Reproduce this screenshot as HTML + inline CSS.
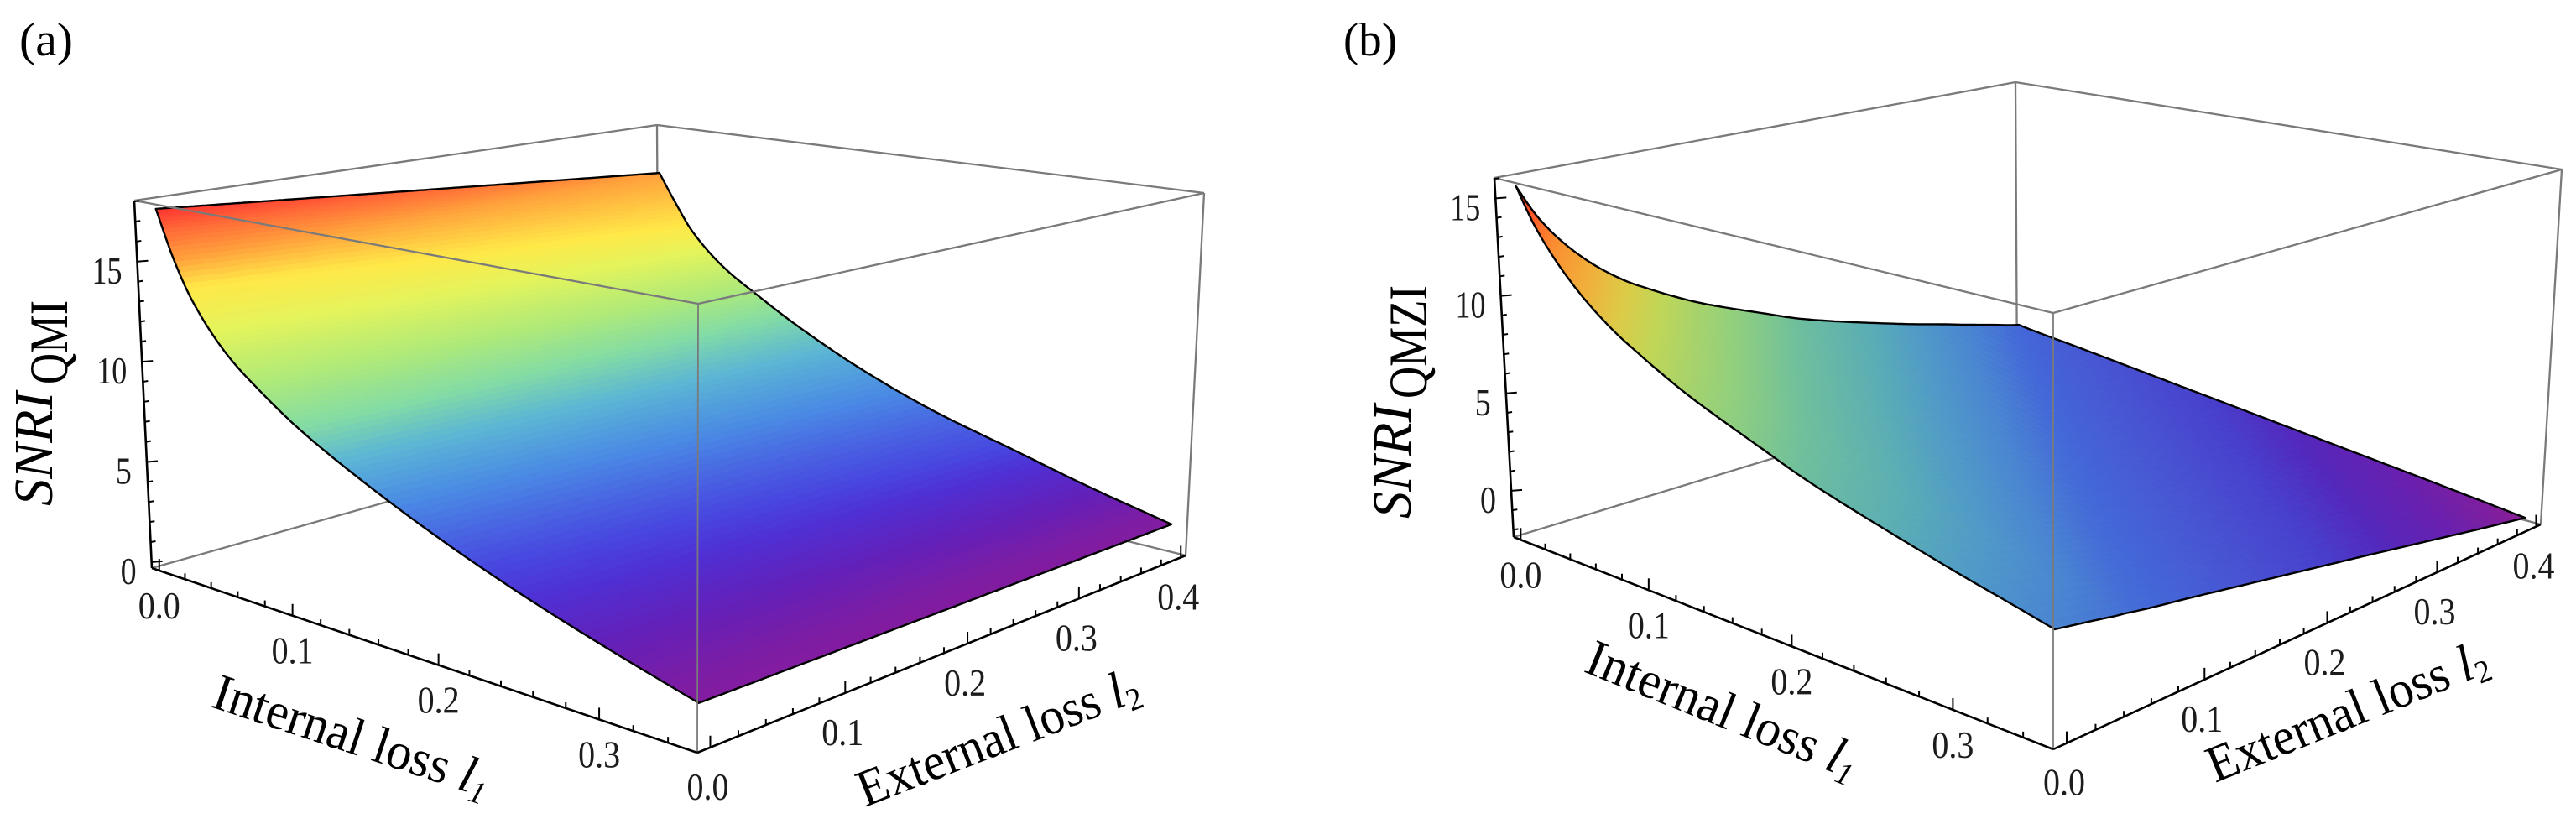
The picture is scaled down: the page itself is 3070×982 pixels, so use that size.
<!DOCTYPE html>
<html lang="en">
<head>
<meta charset="utf-8">
<title>SNRI surfaces for QMI and QMZI</title>
<style>
html,body{margin:0;padding:0;background:#fff;}
body{width:3070px;height:982px;overflow:hidden;}
svg{display:block;font-family:"Liberation Serif",serif;}
</style>
</head>
<body>
<svg id="figure" width="3070" height="982" viewBox="0 0 3070 982" xmlns="http://www.w3.org/2000/svg">
  <rect width="3070" height="982" fill="#fff"/>
  <g id="panel-a"></g>
  <g id="panel-b"></g>

  <text x="23" y="66" font-size="56" textLength="64" lengthAdjust="spacingAndGlyphs">(a)</text>
  <text x="1601" y="66" font-size="56" textLength="64" lengthAdjust="spacingAndGlyphs">(b)</text>

  <g>
    <text transform="translate(62,603) rotate(-90)" font-size="66" font-style="italic" textLength="136" lengthAdjust="spacingAndGlyphs">SNRI</text>
    <text transform="translate(80,458) rotate(-90)" font-size="65" textLength="100" lengthAdjust="spacingAndGlyphs">QMI</text>
  </g>
  <g>
    <text transform="translate(1681,618) rotate(-90)" font-size="66" font-style="italic" textLength="136" lengthAdjust="spacingAndGlyphs">SNRI</text>
    <text transform="translate(1700,475) rotate(-90)" font-size="65" textLength="135" lengthAdjust="spacingAndGlyphs">QMZI</text>
  </g>

  <text transform="translate(250,842) rotate(18.4)" font-size="62" textLength="344" lengthAdjust="spacingAndGlyphs">Internal loss <tspan font-style="italic">l</tspan><tspan font-size="38" font-style="italic" dy="9">1</tspan></text>
  <text transform="translate(1031,962) rotate(-21.3)" font-size="62" textLength="355" lengthAdjust="spacingAndGlyphs">External loss <tspan font-style="italic">l</tspan><tspan font-size="38" dy="9">2</tspan></text>
  <text transform="translate(1886,800) rotate(22)" font-size="62" textLength="344" lengthAdjust="spacingAndGlyphs">Internal loss <tspan font-style="italic">l</tspan><tspan font-size="38" font-style="italic" dy="9">1</tspan></text>
  <text transform="translate(2640,933) rotate(-22)" font-size="62" textLength="355" lengthAdjust="spacingAndGlyphs">External loss <tspan font-style="italic">l</tspan><tspan font-size="38" dy="9">2</tspan></text>
</svg>

<script>
// ---------- chart data ----------
const internalLossTicks = [0, 0.1, 0.2, 0.3];
const externalLossTicks = [0, 0.1, 0.2, 0.3, 0.4];
const snriTicksA = [0, 5, 10, 15];
const snriTicksB = [0, 5, 10, 15];

// Panel (a): SNRI against internal loss, read along the two long edges of the surface
const internalLoss = [0, 0.0125, 0.025, 0.05, 0.075, 0.1, 0.15, 0.2, 0.25, 0.3, 0.35];
const snriQmiAtExternalZero = [17.6, 15.2, 13.4, 11.1, 9.63, 8.4, 6.5, 4.9, 3.55, 2.4, 1.37];
const snriQmiAtExternalMax = [15.24, 13.56, 12.05, 10.14, 8.88, 7.72, 5.8, 4.33, 3.24, 2.16, 1.24];

// Panel (b): SNRI against combined loss (internal + external)
const combinedLoss = [0, 0.0125, 0.025, 0.0375, 0.05, 0.0625, 0.075, 0.0875, 0.1, 0.125, 0.15, 0.175, 0.2, 0.225, 0.25, 0.275, 0.3, 0.325, 0.35, 0.375, 0.4, 0.45, 0.5, 0.55, 0.6, 0.65, 0.7, 0.75];
const snriQmzi = [15.58, 13.9, 12.63, 11.6, 10.73, 10, 9.37, 8.85, 8.35, 7.45, 6.7, 6, 5.3, 4.72, 4.2, 3.7, 3.22, 2.78, 2.32, 1.88, 1.45, 0.95, 0.45, -0.05, -0.55, -1.05, -1.55, -2.07];
// Extra SNRI along the far edge (internal loss at its maximum), by external loss
const externalLossSamples = [0, 0.05, 0.1, 0.15, 0.2, 0.25, 0.3, 0.35, 0.4];
const snriOffsetAtInternalMax = [-0.04, 0.25, 0.21, 0.17, 0.135, 0.1, 0.05, 0, 0];

// Colour scales
const colorsA = ['#8c1a98','#7f1da2','#6420b8','#4f30d4','#4848e0','#4a8ae4','#5cb6d4','#84dca4','#b0ea78','#e4f45c','#ffe848','#ffa03c','#ff6c38','#ff3232'];
const colorLevelsAtExternalZero = [0.8, 1.6, 2.5, 3.5, 4.3, 6, 7.3, 8.4, 10, 12, 13.9, 15.2, 16.5, 17.6];
const colorLevelsAtExternalMax = [0.8, 1.4, 2.0, 2.8, 3.3, 5, 6.6, 8, 9.3, 11, 12.3, 15.2, 16.2, 17.2];
const colorsB = ['#8a1f96','#6a20ae','#5428bc','#4840cc','#4858d4','#4468d8','#4a84d2','#509ac8','#5caeb4','#70c09c','#94d07c','#c0d658','#dccb48','#f0b03c','#fb8c30','#ff5a2a','#f03020'];
const colorLevelsB = [-2.07, -1.3, -0.6, 0, 0.9, 1.45, 2.24, 3.1, 4, 5.3, 6.7, 8.4, 9.4, 10.7, 12.6, 14, 15.6];

const INTERNAL_MAX = 0.35;
const EXTERNAL_MAX = 0.4;

// ---------- helpers ----------
const SVGNS = 'http://www.w3.org/2000/svg';
function mk(tag, attrs, parent) {
  const el = document.createElementNS(SVGNS, tag);
  for (const k in attrs) el.setAttribute(k, attrs[k]);
  parent.appendChild(el);
  return el;
}
// piecewise linear lookup
function interp(xs, ys, x) {
  if (x <= xs[0]) return ys[0];
  for (let i = 1; i < xs.length; i++) {
    if (x <= xs[i]) {
      const t = (x - xs[i - 1]) / (xs[i] - xs[i - 1]);
      return ys[i - 1] + t * (ys[i] - ys[i - 1]);
    }
  }
  return ys[ys.length - 1];
}
// shape-preserving smooth lookup through the read values
function smoothCurve(xs, ys) {
  const n = xs.length;
  const h = [], s = [], d = new Array(n).fill(0);
  for (let i = 0; i < n - 1; i++) { h[i] = xs[i + 1] - xs[i]; s[i] = (ys[i + 1] - ys[i]) / h[i]; }
  d[0] = s[0]; d[n - 1] = s[n - 2];
  for (let i = 1; i < n - 1; i++) {
    if (s[i - 1] * s[i] > 0) {
      const w1 = 2 * h[i] + h[i - 1], w2 = h[i] + 2 * h[i - 1];
      d[i] = (w1 + w2) / (w1 / s[i - 1] + w2 / s[i]);
    }
  }
  return function (x) {
    if (x <= xs[0]) return ys[0];
    if (x >= xs[n - 1]) return ys[n - 1];
    let i = 0;
    while (x > xs[i + 1]) i++;
    const t = (x - xs[i]) / h[i], t2 = t * t, t3 = t2 * t;
    return (2 * t3 - 3 * t2 + 1) * ys[i] + (t3 - 2 * t2 + t) * h[i] * d[i] + (-2 * t3 + 3 * t2) * ys[i + 1] + (t3 - t2) * h[i] * d[i + 1];
  };
}
function hexToRgb(h) {
  return [parseInt(h.slice(1, 3), 16), parseInt(h.slice(3, 5), 16), parseInt(h.slice(5, 7), 16)];
}
function colorAt(levels, colors, z) {
  if (z <= levels[0]) return colors[0];
  for (let i = 1; i < levels.length; i++) {
    if (z <= levels[i]) {
      const t = (z - levels[i - 1]) / Math.max(1e-6, levels[i] - levels[i - 1]);
      const a = hexToRgb(colors[i - 1]);
      const b = hexToRgb(colors[i]);
      return 'rgb(' + [0, 1, 2].map(function (c) { return Math.round(a[c] + t * (b[c] - a[c])); }).join(',') + ')';
    }
  }
  return colors[colors.length - 1];
}
// maps the unit square to a screen quadrilateral (projective)
function quadMap(q) {
  const A = q[0], B = q[1], C = q[2], D = q[3];
  const sx = A[0] - B[0] + C[0] - D[0], sy = A[1] - B[1] + C[1] - D[1];
  const d1x = B[0] - C[0], d1y = B[1] - C[1], d2x = D[0] - C[0], d2y = D[1] - C[1];
  const den = d1x * d2y - d2x * d1y;
  const g = (sx * d2y - sy * d2x) / den;
  const h = (d1x * sy - d1y * sx) / den;
  const a = B[0] - A[0] + g * B[0], b = D[0] - A[0] + h * D[0];
  const c = B[1] - A[1] + g * B[1], d = D[1] - A[1] + h * D[1];
  return function (u, v) {
    const w = g * u + h * v + 1;
    return [(a * u + b * v + A[0]) / w, (c * u + d * v + A[1]) / w];
  };
}
// internal / external loss axes shared by both plots
function uOf(l1) { return 0.016 + 2.76 * l1; }
function vOf(l2) { return 0.022 + 2.415 * l2; }

function drawPanel(cfg) {
  const root = document.getElementById(cfg.id);
  const base = quadMap(cfg.base);
  const top = quadMap(cfg.top);
  function project(l1, l2, z) {
    const u = uOf(l1), v = vOf(l2);
    const w = (z - cfg.zMin) / (cfg.zMax - cfg.zMin);
    const p = base(u, v), q = top(u, v);
    return [p[0] + w * (q[0] - p[0]), p[1] + w * (q[1] - p[1])];
  }
  function corner(u, v, w) {
    const p = base(u, v), q = top(u, v);
    return [p[0] + w * (q[0] - p[0]), p[1] + w * (q[1] - p[1])];
  }
  function greyLine(a, b, name, width) {
    const el = mk('line', { x1: a[0], y1: a[1], x2: b[0], y2: b[1], stroke: '#7a7a7a', 'stroke-width': width || 2.3 }, root);
    
    
  }
  const cA = cfg.base[0], cB = cfg.base[1], cC = cfg.base[2], cD = cfg.base[3];
  const tA = cfg.top[0], tB = cfg.top[1], tC = cfg.top[2], tD = cfg.top[3];

  // box edges behind the surface
  greyLine(cA, cD, 'box-back-floor-left-edge');
  greyLine(cD, cC, 'box-back-floor-right-edge');
  greyLine(tA, tD, 'box-top-back-left-edge');
  greyLine(tD, tC, 'box-top-back-right-edge');
  greyLine(tC, cC, 'box-right-vertical-edge');
  greyLine(tD, cD, 'box-back-vertical-edge');

  // surface mesh, denser near zero loss where the surface changes fastest
  const surface = mk('g', {}, root);
  
  
  const NI = 96, NJ = 64;
  function meshL1(i) { return INTERNAL_MAX * Math.pow(i / NI, 1.9); }
  function meshL2(j) { return EXTERNAL_MAX * Math.pow(j / NJ, cfg.externalMeshPower); }
  for (let i = 0; i < NI; i++) {
    for (let j = 0; j < NJ; j++) {
      const a1 = meshL1(i), a2 = meshL1(i + 1);
      const b1 = meshL2(j), b2 = meshL2(j + 1);
      const p = [project(a1, b1, cfg.zAt(a1, b1)), project(a2, b1, cfg.zAt(a2, b1)), project(a2, b2, cfg.zAt(a2, b2)), project(a1, b2, cfg.zAt(a1, b2))];
      const lm = (a1 + a2) / 2, em = (b1 + b2) / 2;
      const col = cfg.colorOf(lm, em, cfg.zAt(lm, em));
      const cell = mk('polygon', {
        points: p.map(function (q) { return q[0].toFixed(1) + ',' + q[1].toFixed(1); }).join(' '),
        fill: col, stroke: col, 'stroke-width': 0.8
      }, surface);
      
      
    }
  }

  // surface outline
  const outline = [];
  const STEPS = 160;
  for (let i = 0; i <= STEPS; i++) { const l = INTERNAL_MAX * Math.pow(i / STEPS, 1.6); outline.push(project(l, 0, cfg.zAt(l, 0))); }
  for (let i = 0; i <= STEPS; i++) { const l = EXTERNAL_MAX * i / STEPS; outline.push(project(INTERNAL_MAX, l, cfg.zAt(INTERNAL_MAX, l))); }
  for (let i = STEPS; i >= 0; i--) { const l = INTERNAL_MAX * Math.pow(i / STEPS, 1.6); outline.push(project(l, EXTERNAL_MAX, cfg.zAt(l, EXTERNAL_MAX))); }
  for (let i = STEPS; i >= 0; i--) { const l = EXTERNAL_MAX * Math.pow(i / STEPS, 1.6); outline.push(project(0, l, cfg.zAt(0, l))); }
  const outlineEl = mk('polygon', {
    points: outline.map(function (q) { return q[0].toFixed(1) + ',' + q[1].toFixed(1); }).join(' '),
    fill: 'none', stroke: '#000', 'stroke-width': 2.4, 'stroke-linejoin': 'round'
  }, root);
  
  

  // box edges in front of the surface
  greyLine(tA, tB, 'box-top-front-left-edge');
  greyLine(tB, tC, 'box-top-front-right-edge');
  greyLine(tB, cB, 'box-front-vertical-edge', 1.8);

  // axis lines
  function axisLine(a, b, name) {
    const el = mk('line', { x1: a[0], y1: a[1], x2: b[0], y2: b[1], stroke: '#000', 'stroke-width': 2.6 }, root);
    
    
  }
  axisLine(tA, cA, 'z-axis-line');
  axisLine(cA, cB, 'internal-loss-axis-line');
  axisLine(cB, cC, 'external-loss-axis-line');

  function tick(x1, y1, x2, y2, name) {
    const el = mk('line', { x1: x1, y1: y1, x2: x2, y2: y2, stroke: '#000', 'stroke-width': 2 }, root);
    
    
  }
  function label(txt, x, y, anchor, name) {
    const el = mk('text', { x: x, y: y, 'font-size': 45, 'text-anchor': anchor, fill: '#1c1c1c' }, root);
    el.textContent = txt;
    
    
    el.setAttribute('textLength', txt.length > 2 ? 50 : (txt.length === 2 ? 36 : 19));
    el.setAttribute('lengthAdjust', 'spacingAndGlyphs');
  }

  // internal loss ticks
  for (let k = 0; k <= 17; k++) {
    const l = k * 0.02;
    const p = corner(uOf(l), 0, 0);
    const major = k % 5 === 0;
    tick(p[0], p[1], p[0], p[1] - (major ? 14 : 7), major ? 'internal-loss-major-tick' : 'internal-loss-minor-tick');
  }
  internalLossTicks.forEach(function (t) {
    const p = corner(uOf(t), 0, 0);
    label(t.toFixed(1), p[0], p[1] + 57, 'middle', 'internal-loss-tick-label');
  });

  // external loss ticks
  for (let k = 0; k <= 20; k++) {
    const l = k * 0.02;
    const p = corner(1, vOf(l), 0);
    const major = k % 5 === 0;
    tick(p[0], p[1], p[0], p[1] - (major ? 14 : 7), major ? 'external-loss-major-tick' : 'external-loss-minor-tick');
  }
  externalLossTicks.forEach(function (t) {
    const p = corner(1, vOf(t), 0);
    label(t.toFixed(1), p[0] - 3, p[1] + 62, 'middle', 'external-loss-tick-label');
  });

  // z ticks
  for (let z = Math.ceil(cfg.zMin); z <= Math.floor(cfg.zMax); z++) {
    const w = (z - cfg.zMin) / (cfg.zMax - cfg.zMin);
    const p = [cA[0] + w * (tA[0] - cA[0]), cA[1] + w * (tA[1] - cA[1])];
    const major = z % 5 === 0;
    tick(p[0], p[1], p[0] + (major ? 13 : 6), p[1] - 1, major ? 'z-major-tick' : 'z-minor-tick');
  }
  cfg.zTicks.forEach(function (z) {
    const w = (z - cfg.zMin) / (cfg.zMax - cfg.zMin);
    const p = [cA[0] + w * (tA[0] - cA[0]), cA[1] + w * (tA[1] - cA[1])];
    label(String(z), p[0] - 18, p[1] + 26, 'end', 'z-tick-label');
  });
}

// ---------- panels ----------
const qmiEdgeZero = smoothCurve(internalLoss, snriQmiAtExternalZero);
const qmiEdgeMax = smoothCurve(internalLoss, snriQmiAtExternalMax);
const qmziCurve = smoothCurve(combinedLoss, snriQmzi);

drawPanel({
  id: 'panel-a',
  base: [[181, 677], [831, 897], [1413, 662], [785, 507]],
  top: [[160, 239], [832, 362], [1435, 230], [783, 149]],
  zMin: -0.3, zMax: 18.05,
  externalMeshPower: 1,
  zTicks: snriTicksA,
  zAt: function (l1, l2) {
    const z0 = qmiEdgeZero(l1);
    const z1 = qmiEdgeMax(l1);
    return z0 + (l2 / EXTERNAL_MAX) * (z1 - z0);
  },
  colorOf: function (l1, l2, z) {
    const f = l2 / EXTERNAL_MAX;
    const levels = colorLevelsAtExternalZero.map(function (v, i) { return v + f * (colorLevelsAtExternalMax[i] - v); });
    return colorAt(levels, colorsA, z);
  }
});
drawPanel({
  id: 'panel-b',
  base: [[1804, 640], [2447, 893], [3028, 625], [2404, 458]],
  top: [[1781, 212], [2447, 373], [3053, 202], [2402, 98]],
  zMin: -2.37, zMax: 16.05,
  externalMeshPower: 1.7,
  zTicks: snriTicksB,
  zAt: function (l1, l2) {
    return qmziCurve(l1 + l2) + (l1 / INTERNAL_MAX) * interp(externalLossSamples, snriOffsetAtInternalMax, l2);
  },
  colorOf: function (l1, l2, z) { return colorAt(colorLevelsB, colorsB, z); }
});
</script>
</body>
</html>
